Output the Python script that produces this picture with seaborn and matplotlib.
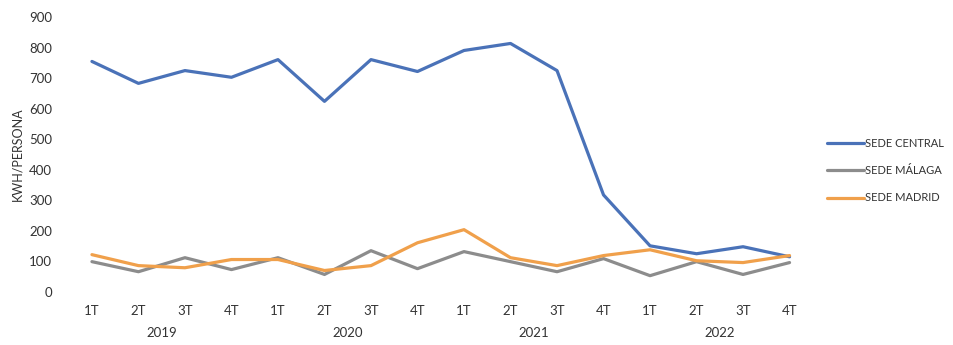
import matplotlib
matplotlib.use("Agg")
import matplotlib.pyplot as plt
import seaborn as sns
import pandas as pd

quarters = ["1T", "2T", "3T", "4T"] * 4
years = ["2019", "2020", "2021", "2022"]

sede_central = [755, 683, 725, 703, 761, 624, 761, 722,
                791, 814, 725, 317, 150, 124, 147, 114]
sede_malaga = [98, 65, 111, 72, 111, 56, 134, 75,
               131, 98, 65, 108, 52, 98, 56, 95]
sede_madrid = [121, 85, 78, 105, 105, 69, 85, 160,
               203, 111, 85, 118, 137, 101, 95, 118]

series_names = ["SEDE CENTRAL", "SEDE MÁLAGA", "SEDE MADRID"]
series_values = [sede_central, sede_malaga, sede_madrid]
palette = ["#4a72b8", "#8c8c8c", "#f0a04b"]

rows = []
for name, vals in zip(series_names, series_values):
    for i, v in enumerate(vals):
        rows.append({"pos": i, "sede": name, "valor": v})
df = pd.DataFrame(rows)

sns.set_theme(style="white")
plt.rcParams["font.family"] = ["Lato", "DejaVu Sans"]

fig, ax = plt.subplots(figsize=(9.54, 3.45), dpi=100)
fig.subplots_adjust(left=0.072, right=0.852, top=0.95, bottom=0.155)

sns.lineplot(data=df, x="pos", y="valor", hue="sede", hue_order=series_names,
             palette=palette, linewidth=2.3, ax=ax)

ax.set_xlim(-0.5, 15.5)
ax.set_ylim(0, 900)
ax.set_yticks(range(0, 901, 100))
ax.set_xticks(range(16))
ax.set_xticklabels(quarters)
ax.tick_params(axis="y", labelsize=9.5, colors="#333333", length=0, pad=12)
ax.tick_params(axis="x", labelsize=9.5, colors="#333333", length=0, pad=10)
ax.set_xlabel("")
ax.set_ylabel("KWH/PERSONA", fontsize=9, color="#333333", labelpad=4)
for s in ax.spines.values():
    s.set_visible(False)

for k, yr in enumerate(years):
    ax.text(4 * k + 1.5, -0.152, yr, transform=ax.get_xaxis_transform(),
            ha="center", va="center", fontsize=9.5, color="#333333")

leg = ax.legend(loc="center left", bbox_to_anchor=(1.005, 0.44), frameon=False,
                fontsize=8, handlelength=3.4, handletextpad=0.1, labelspacing=1.45)
for t in leg.get_texts():
    t.set_color("#333333")

fig.savefig("out.png", dpi=100)
